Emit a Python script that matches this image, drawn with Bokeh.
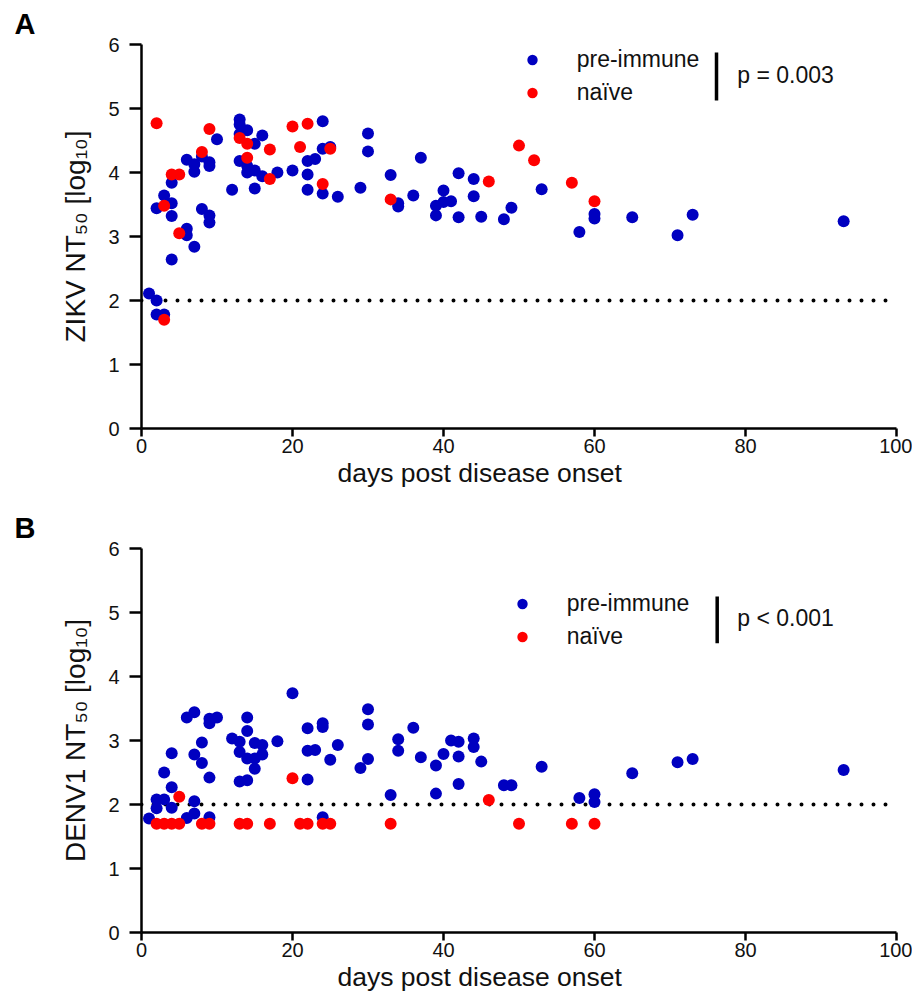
from bokeh.plotting import figure
from bokeh.layouts import column
from bokeh.models import Range1d, SingleIntervalTicker, Span, Label, Legend, LegendItem, Title
from bokeh.embed import file_html
from bokeh.resources import INLINE

# ---------------- data ----------------
# Panel A: ZIKV NT50 (log10)
zikv_pre_days = [1, 2, 2, 3, 4, 2, 3, 4, 4, 4, 6, 6, 7, 6, 7, 7, 8, 9, 9, 9, 9, 10, 8, 12,
                 13, 13, 13, 14, 13, 14, 14, 15, 15, 16, 15, 16, 18, 20, 22, 22, 23, 22,
                 24, 24, 25, 24, 26, 29, 30, 30, 33, 34, 34, 36, 37, 39, 39, 40, 40, 41,
                 42, 42, 44, 44, 45, 48, 49, 53, 58, 60, 60, 65, 71, 73, 93]
zikv_pre_titer = [2.11, 2.00, 1.78, 1.78, 2.64, 3.44, 3.64, 3.52, 3.32, 3.84, 3.12, 3.02, 2.84,
                  4.20, 4.13, 4.01, 3.43, 3.33, 3.22, 4.16, 4.10, 4.52, 4.25, 3.73,
                  4.83, 4.75, 4.60, 4.66, 4.18, 4.10, 4.00, 4.03, 4.45, 4.58, 3.75, 3.94,
                  4.00, 4.03, 3.97, 4.18, 4.21, 3.73, 4.80, 4.37, 4.40, 3.67, 3.62, 3.76,
                  4.61, 4.33, 3.96, 3.52, 3.47, 3.64, 4.23, 3.48, 3.33, 3.72, 3.54, 3.55,
                  3.99, 3.30, 3.90, 3.63, 3.31, 3.27, 3.45, 3.74, 3.07, 3.35, 3.28, 3.30,
                  3.02, 3.34, 3.24]
zikv_naive_days = [2, 9, 8, 4, 5, 3, 5, 3, 13, 14, 14, 17, 17, 20, 22, 21, 24, 25, 33, 46,
                   50, 52, 57, 60]
zikv_naive_titer = [4.77, 4.68, 4.32, 3.97, 3.97, 3.48, 3.05, 1.70, 4.54, 4.45, 4.23, 4.36,
                    3.90, 4.72, 4.76, 4.40, 3.82, 4.37, 3.58, 3.86, 4.42, 4.19, 3.84, 3.55]

# Panel B: DENV1 NT50 (log10)
denv_pre_days = [1, 2, 2, 3, 4, 3, 4, 4, 6, 7, 7, 6, 7, 7, 8, 8, 9, 9, 9, 10, 9, 12, 13, 13,
                 13, 14, 14, 14, 14, 15, 15, 15, 16, 16, 18, 20, 22, 22, 22, 23, 24, 24, 24,
                 25, 26, 29, 30, 30, 30, 33, 34, 34, 36, 37, 39, 39, 40, 41, 42, 42, 42, 44,
                 44, 45, 48, 49, 53, 58, 60, 60, 65, 71, 73, 93]
denv_pre_titer = [1.78, 2.08, 1.94, 2.08, 1.95, 2.50, 2.27, 2.80, 1.79, 2.05, 1.86, 3.36, 3.44,
                  2.78, 2.97, 2.65, 2.42, 3.34, 3.27, 3.36, 1.80, 3.03, 2.98, 2.82, 2.36,
                  2.38, 3.36, 3.15, 2.72, 2.96, 2.72, 2.56, 2.93, 2.78, 2.99, 3.74, 3.19,
                  2.84, 2.39, 2.85, 3.27, 3.21, 1.80, 2.70, 2.93, 2.57, 3.49, 3.25, 2.71,
                  2.15, 3.02, 2.84, 3.20, 2.74, 2.61, 2.17, 2.79, 3.00, 2.98, 2.75, 2.32,
                  3.03, 2.90, 2.67, 2.30, 2.30, 2.59, 2.10, 2.16, 2.04, 2.49, 2.66, 2.71, 2.54]
denv_naive_days = [2, 3, 4, 5, 8, 9, 13, 14, 17, 21, 22, 24, 25, 33, 50, 57, 60, 5, 20, 46]
denv_naive_titer = [1.70, 1.70, 1.70, 1.70, 1.70, 1.70, 1.70, 1.70, 1.70, 1.70, 1.70, 1.70,
                    1.70, 1.70, 1.70, 1.70, 1.70, 2.12, 2.41, 2.07]

detection_limit = 2
x_ticks_interval = 20
group_labels = ["pre-immune", "naïve"]
p_values = ["p = 0.003", "p < 0.001"]
panel_letters = ["A", "B"]
y_labels = ["ZIKV NT₅₀ [log₁₀]", "DENV1 NT₅₀ [log₁₀]"]
x_label = "days post disease onset"

# ---------------- style ----------------
BLUE = "#0000C0"
RED = "#FF0000"
FONT = "Liberation Sans"


def make_panel(letter, pre_x, pre_y, nv_x, nv_y, ylabel, ptext, ptext_pos, bar, legend_loc,
               top_border, bottom_border):
    p = figure(frame_width=755, frame_height=384,
               x_range=Range1d(0, 100), y_range=Range1d(0, 6),
               output_backend="svg", toolbar_location=None,
               min_border_left=141, min_border_right=16,
               min_border_top=top_border, min_border_bottom=bottom_border)
    p.outline_line_color = None
    p.xgrid.visible = False
    p.ygrid.visible = False
    p.background_fill_color = "white"
    p.border_fill_color = "white"

    p.title = Title(text=letter, align="left", offset=-127, standoff=9,
                    text_font=FONT, text_font_size="29px", text_font_style="bold",
                    text_color="black")

    p.xaxis.ticker = SingleIntervalTicker(interval=x_ticks_interval)
    p.yaxis.ticker = SingleIntervalTicker(interval=1)
    for ax in (p.xaxis, p.yaxis):
        ax.axis_line_width = 2.5
        ax.axis_line_color = "black"
        ax.major_tick_line_width = 2.5
        ax.major_tick_line_color = "black"
        ax.major_tick_in = 0
        ax.minor_tick_line_color = None
        ax.major_label_text_font = FONT
        ax.major_label_text_font_size = "20px"
        ax.major_label_text_color = "#111111"
        ax.axis_label_text_font = FONT
        ax.axis_label_text_font_style = "normal"
        ax.axis_label_text_color = "#111111"
    p.xaxis.major_tick_out = 8
    p.yaxis.major_tick_out = 12
    p.yaxis.axis_label_text_font_size = "28px"
    p.xaxis.major_label_standoff = 2
    p.yaxis.major_label_standoff = 10
    p.yaxis.axis_label_standoff = 14
    p.yaxis.axis_label = ylabel

    # x-axis title, placed below the tick labels (slightly left of centre as in the original)
    p.add_layout(Title(text=x_label, align="left", offset=196, standoff=0,
                       text_font=FONT, text_font_size="26.5px", text_font_style="normal",
                       text_color="#111111"), "below")

    span = Span(location=detection_limit, dimension="width", line_color="black",
                line_width=4, line_dash="0 12", line_cap="round", level="underlay")
    p.add_layout(span)

    r_pre = p.scatter(pre_x, pre_y, size=12, color=BLUE, line_color=None)
    r_nv = p.scatter(nv_x, nv_y, size=12, color=RED, line_color=None)

    legend = Legend(items=[LegendItem(label=group_labels[0], renderers=[r_pre]),
                           LegendItem(label=group_labels[1], renderers=[r_nv])],
                    location=legend_loc, orientation="vertical",
                    glyph_width=26, glyph_height=33, label_height=33, spacing=0,
                    label_standoff=32, padding=0, margin=0,
                    border_line_color=None, background_fill_alpha=0,
                    label_text_font=FONT, label_text_font_size="23px",
                    label_text_color="#111111")
    p.add_layout(legend)

    bx, by0, by1 = bar
    p.segment(x0=[bx], y0=[by0], x1=[bx], y1=[by1], line_width=3.5, line_color="black")

    p.add_layout(Label(x=ptext_pos[0], y=ptext_pos[1], text=ptext, text_font=FONT,
                       text_font_size="23px", text_baseline="middle", text_align="left",
                       text_color="#111111"))
    return p


pA = make_panel(panel_letters[0], zikv_pre_days, zikv_pre_titer, zikv_naive_days,
                zikv_naive_titer, y_labels[0], p_values[0], (78.9, 5.516),
                (76.16, 5.125, 5.875), (377.7, 319.5), 44, 77)
pB = make_panel(panel_letters[1], denv_pre_days, denv_pre_titer, denv_naive_days,
                denv_naive_titer, y_labels[1], p_values[1], (78.9, 4.91),
                (76.25, 4.52, 5.25), (367.7, 279.2), 42, 62)

layout = column(pA, pB, spacing=0)
open("out.html", "w").write(file_html(layout, INLINE))
